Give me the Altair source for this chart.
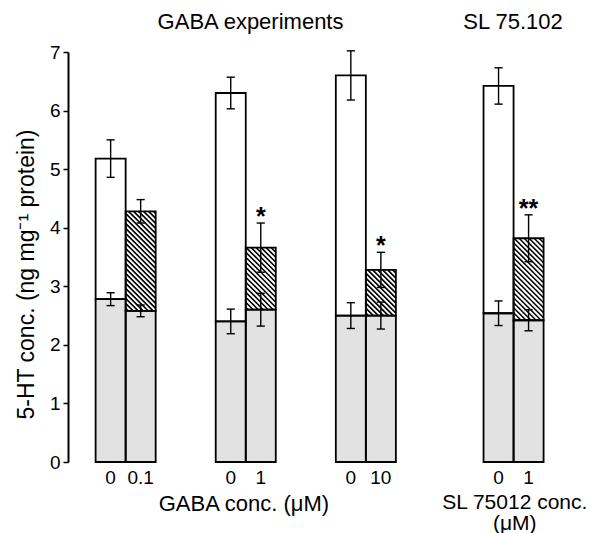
import altair as alt
import pandas as pd
import numpy as np

# ---- data ----
doses = ["0", "0.1", "0", "1", "0", "10", "0", "1"]
treated = [False, True, False, True, False, True, False, True]
group_pos = [1.0, 2.0, 3.0, 4.23]
base_mean = [2.78, 2.58, 2.40, 2.60, 2.50, 2.50, 2.54, 2.42]
base_sem = [0.11, 0.10, 0.21, 0.28, 0.22, 0.23, 0.21, 0.18]
total_mean = [5.18, 4.28, 6.30, 3.66, 6.60, 3.28, 6.42, 3.82]
total_sem = [0.32, 0.20, 0.27, 0.42, 0.42, 0.30, 0.31, 0.40]
stars = ["", "", "", "*", "", "*", "", "**"]
group_titles = ["GABA experiments", "SL 75.102"]
axis_titles = ["GABA conc. (μM)", "SL 75012 conc.", "(μM)"]

# ---- layout ----
W, H = 490, 410
XDOM = [0.52, 4.6]
YDOM = [0, 7]
BAR_W = 0.25
CAP = 0.034
FONT = "Liberation Sans"
HATCH_STEP = 5.0

rows = []
for i in range(len(doses)):
    g = group_pos[i // 2]
    x0 = g if treated[i] else g - BAR_W
    rows.append(dict(
        x0=x0, x1=x0 + BAR_W, xc=x0 + BAR_W / 2,
        base=base_mean[i], base_lo=base_mean[i] - base_sem[i], base_hi=base_mean[i] + base_sem[i],
        total=total_mean[i], tot_lo=total_mean[i] - total_sem[i], tot_hi=total_mean[i] + total_sem[i],
        zero=0.0, dose=doses[i], star=stars[i], treated=treated[i],
        cl=x0 + BAR_W / 2 - CAP, cr=x0 + BAR_W / 2 + CAP,
    ))
df = pd.DataFrame(rows)

# hatch lines (clipped to the treated top segments), in data units
sx = W / (XDOM[1] - XDOM[0])
sy = H / (YDOM[1] - YDOM[0])
hl = []
for r in rows:
    if not r["treated"]:
        continue
    u0, u1 = r["x0"] * sx, r["x1"] * sx
    v0, v1 = r["base"] * sy, r["total"] * sy
    c = u0 + v0 + HATCH_STEP / 2
    while c < u1 + v1:
        ua = max(u0, c - v1)
        ub = min(u1, c - v0)
        if ub > ua:
            hl.append(dict(hx=ua / sx, hy=(c - ua) / sy, hx2=ub / sx, hy2=(c - ub) / sy))
        c += HATCH_STEP
hatch = pd.DataFrame(hl)

xscale = alt.Scale(domain=XDOM, nice=False, zero=False)
yscale = alt.Scale(domain=YDOM, nice=False)
yaxis = alt.Axis(
    values=list(range(8)), grid=False, tickSize=5, tickWidth=1.5, tickColor="black",
    domainColor="black", domainWidth=2, labelFont=FONT, labelFontSize=19, labelColor="black",
    labelPadding=3, title="5-HT conc. (ng mg⁻¹ protein)", titleFont=FONT, titleFontSize=23,
    titleFontWeight="normal", titleColor="black", titleX=-42, titleY=H / 2 + 17, titleAngle=270,
    titleAlign="center", titleBaseline="middle",
)


def X(f):
    return alt.X(f, type="quantitative", scale=xscale, axis=None)


def Y(f):
    return alt.Y(f, type="quantitative", scale=yscale, axis=yaxis)


base = alt.Chart(df)

stipple = base.mark_rect(fill="#e2e2e2", stroke=None).encode(
    x=X("x0"), x2="x1", y=Y("zero"), y2="base")
top = base.mark_rect(fill="white", stroke=None).encode(
    x=X("x0"), x2="x1", y=Y("base"), y2="total")
hatch_layer = alt.Chart(hatch).mark_rule(color="black", strokeWidth=1.6).encode(
    x=X("hx"), x2="hx2", y=Y("hy"), y2="hy2")
outline_low = base.mark_rect(fill=None, fillOpacity=0, stroke="black", strokeWidth=1.8).encode(
    x=X("x0"), x2="x1", y=Y("zero"), y2="base")
outline_top = base.mark_rect(fill=None, fillOpacity=0, stroke="black", strokeWidth=1.8).encode(
    x=X("x0"), x2="x1", y=Y("base"), y2="total")

err_base = base.mark_rule(color="black", strokeWidth=1.4).encode(
    x=X("xc"), y=Y("base_lo"), y2="base_hi")
err_tot = base.mark_rule(color="black", strokeWidth=1.4).encode(
    x=X("xc"), y=Y("tot_lo"), y2="tot_hi")
caps = []
for f in ["base_lo", "base_hi", "tot_lo", "tot_hi"]:
    caps.append(base.mark_rule(color="black", strokeWidth=1.4).encode(
        x=X("cl"), x2="cr", y=Y(f)))

star_layer = base.mark_text(font=FONT, fontSize=25, fontWeight="bold", baseline="alphabetic", dy=2,
                            color="black").encode(
    x=X("xc"), y=Y("tot_hi"), text="star")
dose_layer = base.mark_text(font=FONT, fontSize=19, baseline="middle", color="black").encode(
    x=X("xc"), y=alt.value(426), text="dose")

tt = pd.DataFrame({"t": group_titles, "tx": [2.04, 4.225]})
title_layer = alt.Chart(tt).mark_text(font=FONT, fontSize=22, baseline="middle", color="black").encode(
    x=X("tx"), y=alt.value(-30), text="t")

at = pd.DataFrame({"t": axis_titles, "tx": [1.985, 4.24, 4.24], "ty": [452, 451, 472],
                   "fs": [22, 21, 21]})
axt_layer = alt.Chart(at).mark_text(font=FONT, baseline="middle", color="black").encode(
    x=X("tx"), y=alt.Y("ty:Q", scale=None), text="t", size=alt.Size("fs:Q", scale=None))

chart = alt.layer(
    stipple, top, hatch_layer, outline_low, outline_top, err_base, err_tot, *caps,
    star_layer, dose_layer, title_layer, axt_layer,
).properties(
    width=W, height=H,
    padding={"left": 68, "top": 52, "right": 37, "bottom": 71},
    autosize=alt.AutoSizeParams(type="none"),
    background="white",
).configure_view(stroke=None)

chart.save("out.html", embed_options={"renderer": "svg", "actions": False})
